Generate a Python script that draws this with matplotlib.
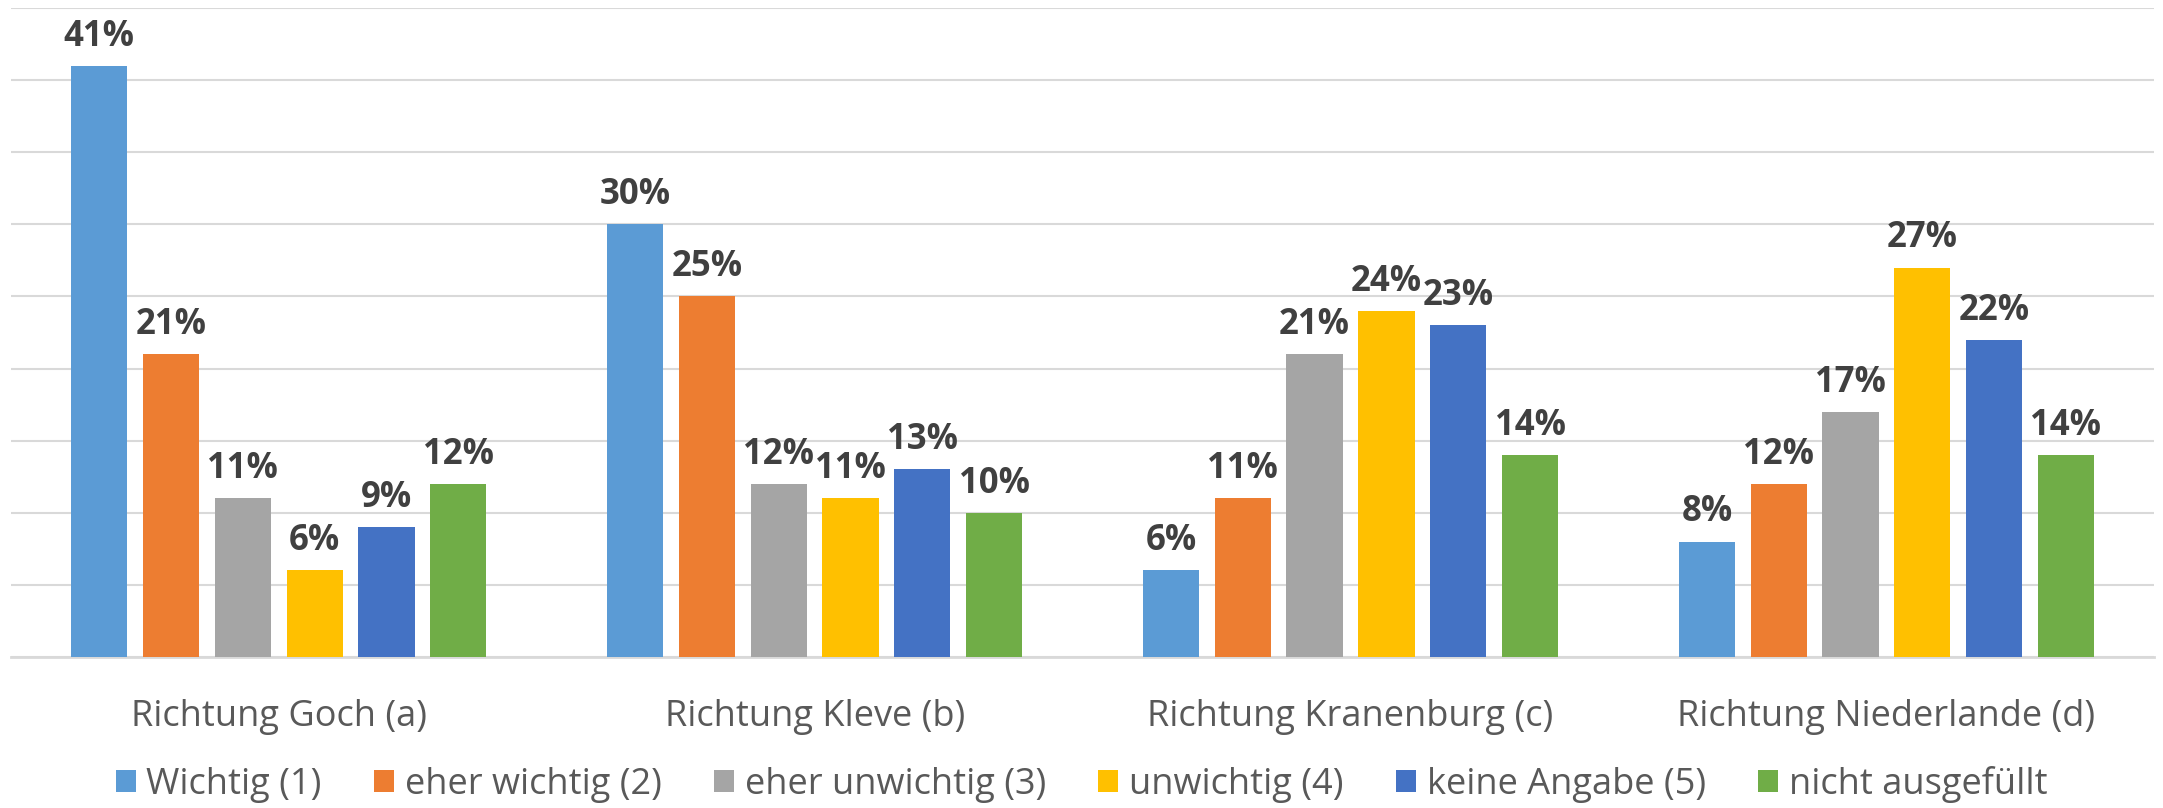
import matplotlib.pyplot as plt
import numpy as np
from matplotlib.patches import Patch

plt.rcParams['font.family'] = ['Open Sans', 'DejaVu Sans']

categories = ['Richtung Goch (a)', 'Richtung Kleve (b)', 'Richtung Kranenburg (c)',
              'Richtung Niederlande (d)']
series_names = ['Wichtig (1)', 'eher wichtig (2)', 'eher unwichtig (3)',
                'unwichtig (4)', 'keine Angabe (5)', 'nicht ausgefüllt']
wichtig = [41, 30, 6, 8]
eher_wichtig = [21, 25, 11, 12]
eher_unwichtig = [11, 12, 21, 17]
unwichtig = [6, 11, 24, 27]
keine_angabe = [9, 13, 23, 22]
nicht_ausgefuellt = [12, 10, 14, 14]

colors = ['#5B9BD5', '#ED7D31', '#A5A5A5', '#FFC000', '#4472C4', '#70AD47']
series = [wichtig, eher_wichtig, eher_unwichtig, unwichtig, keine_angabe, nicht_ausgefuellt]

fig = plt.figure(figsize=(21.63, 8.08), dpi=100)
ax = fig.add_axes([0.005, 0.187, 0.991, 0.803])

x = np.arange(len(categories))
step = 0.134
width = 0.105
for i, (vals, col) in enumerate(zip(series, colors)):
    pos = x + (i - 2.5) * step
    bars = ax.bar(pos, vals, width, color=col, zorder=3)
    for b, v in zip(bars, vals):
        ax.annotate(f'{v}%', (b.get_x() + b.get_width() / 2, v),
                    xytext=(0, 8), textcoords='offset points',
                    ha='center', va='bottom', fontsize=25, fontweight='bold',
                    color='#404040')

ax.set_xlim(-0.5, 3.5)
ax.set_ylim(0, 45)
ax.set_yticks(np.arange(0, 46, 5))
ax.set_yticklabels([])
ax.tick_params(axis='y', length=0)
ax.grid(axis='y', color='#d9d9d9', linewidth=1.5, zorder=0)
for s in ['top', 'right', 'left']:
    ax.spines[s].set_visible(False)
ax.spines['bottom'].set_color('#d9d9d9')
ax.spines['bottom'].set_linewidth(2)
ax.set_xticks(x)
ax.set_xticklabels(categories, fontsize=26, color='#595959')
ax.tick_params(axis='x', length=0, pad=30)

handles = [Patch(facecolor=c, label=n) for c, n in zip(colors, series_names)]
fig.legend(handles=handles, loc='lower center', ncol=6, frameon=False,
           fontsize=26, labelcolor='#595959', bbox_to_anchor=(0.5, -0.034),
           handlelength=0.55, handleheight=0.55, handletextpad=0.3,
           columnspacing=1.45)

fig.savefig('out.png', dpi=100)
